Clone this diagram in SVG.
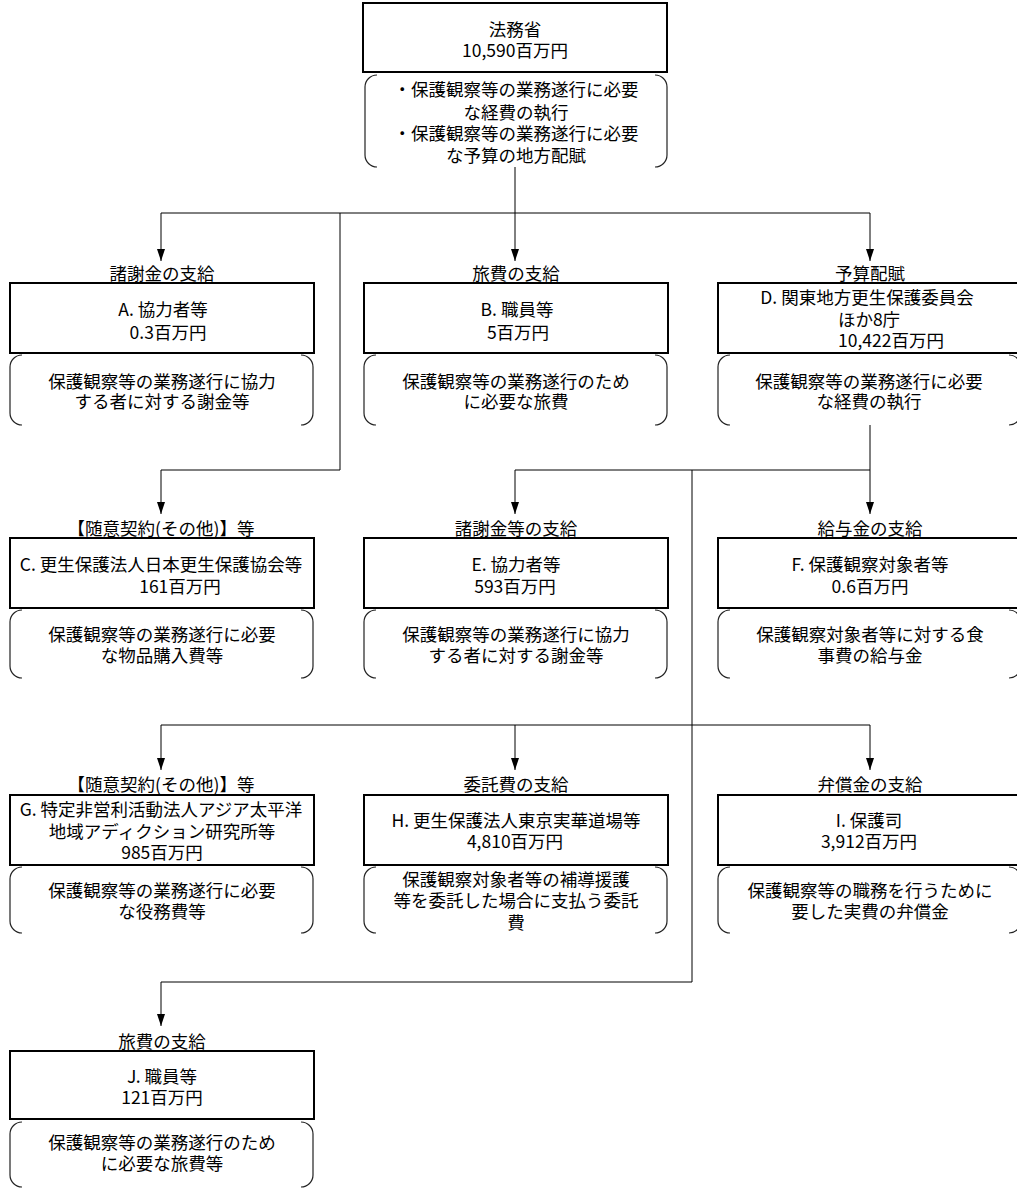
<svg xmlns="http://www.w3.org/2000/svg" width="1017" height="1189" viewBox="0 0 1017 1189">
<style>
text{font-family:"Noto Sans CJK JP","Noto Sans CJK SC",sans-serif;font-size:17.5px;fill:#000;text-anchor:middle}
.box{fill:#fff;stroke:#000;stroke-width:2}
.br{fill:none;stroke:#222;stroke-width:1.2}
.cn{fill:none;stroke:#000;stroke-width:1}
</style>
<defs>
<marker id="ah" viewBox="0 0 8 12" refX="4" refY="12" markerWidth="8" markerHeight="12" markerUnits="userSpaceOnUse" orient="auto-start-reverse">
<path d="M0,0 L8,0 L4,12 Z" fill="#000" transform="rotate(0)"/>
</marker>
<marker id="a2" viewBox="0 0 12 8" refX="12" refY="4" markerWidth="12" markerHeight="8" markerUnits="userSpaceOnUse" orient="auto">
<path d="M0,0 L12,4 L0,8 Z" fill="#000"/>
</marker>
</defs>

<g id="connectors">
<path class="cn" d="M515,167 V213"/>
<path class="cn" d="M161,213 H870"/>
<path class="cn" d="M161,213 V261" marker-end="url(#a2)"/>
<path class="cn" d="M515,213 V261" marker-end="url(#a2)"/>
<path class="cn" d="M870,213 V261" marker-end="url(#a2)"/>
<path class="cn" d="M340,213 V470 H161 V514" marker-end="url(#a2)"/>
<path class="cn" d="M870,425 V470"/>
<path class="cn" d="M515,470 H870"/>
<path class="cn" d="M515,470 V514" marker-end="url(#a2)"/>
<path class="cn" d="M870,470 V514" marker-end="url(#a2)"/>
<path class="cn" d="M692,470 V982"/>
<path class="cn" d="M161,725 H870"/>
<path class="cn" d="M161,725 V770" marker-end="url(#a2)"/>
<path class="cn" d="M515,725 V770" marker-end="url(#a2)"/>
<path class="cn" d="M870,725 V770" marker-end="url(#a2)"/>
<path class="cn" d="M692,982 H161 V1026" marker-end="url(#a2)"/>
</g>

<g id="n-moj">
<rect class="box" x="363" y="3" width="304" height="69"/>
<text x="515" y="36">法務省</text>
<text x="515" y="57">10,590百万円</text>
<path class="br" d="M377,75 A12,12 0 0 0 365,87 V155 A12,12 0 0 0 377,167 M655,75 A12,12 0 0 1 667,87 V155 A12,12 0 0 1 655,167"/>
<text x="516" y="96">・保護観察等の業務遂行に必要</text>
<text x="516" y="119">な経費の執行</text>
<text x="516" y="140">・保護観察等の業務遂行に必要</text>
<text x="516" y="162">な予算の地方配賦</text>
</g>

<g id="n-a">
<text x="162" y="280">諸謝金の支給</text>
<rect class="box" x="10" y="283" width="304" height="70"/>
<text x="163" y="316">A. 協力者等</text>
<text x="168" y="339">0.3百万円</text>
<path class="br" d="M22,355 A12,12 0 0 0 10,367 V413 A12,12 0 0 0 22,425 M301,355 A12,12 0 0 1 313,367 V413 A12,12 0 0 1 301,425"/>
<text x="162" y="388">保護観察等の業務遂行に協力</text>
<text x="162" y="408">する者に対する謝金等</text>
</g>

<g id="n-b">
<text x="516" y="280">旅費の支給</text>
<rect class="box" x="364" y="283" width="304" height="70"/>
<text x="517" y="316">B. 職員等</text>
<text x="518" y="339">5百万円</text>
<path class="br" d="M376,355 A12,12 0 0 0 364,367 V413 A12,12 0 0 0 376,425 M655,355 A12,12 0 0 1 667,367 V413 A12,12 0 0 1 655,425"/>
<text x="516" y="388">保護観察等の業務遂行のため</text>
<text x="516" y="408">に必要な旅費</text>
</g>

<g id="n-d">
<text x="870" y="280">予算配賦</text>
<rect class="box" x="718" y="283" width="304" height="70"/>
<text x="867" y="304">D. 関東地方更生保護委員会</text>
<text x="869" y="326">ほか8庁</text>
<text x="891" y="347">10,422百万円</text>
<path class="br" d="M730,355 A12,12 0 0 0 718,367 V413 A12,12 0 0 0 730,425 M1009,355 A12,12 0 0 1 1021,367 V413 A12,12 0 0 1 1009,425"/>
<text x="869" y="388">保護観察等の業務遂行に必要</text>
<text x="869" y="408">な経費の執行</text>
</g>

<g id="n-c">
<text x="161" y="535">【随意契約(その他)】等</text>
<rect class="box" x="10" y="538" width="304" height="70"/>
<text x="161" y="571">C. 更生保護法人日本更生保護協会等</text>
<text x="180" y="593">161百万円</text>
<path class="br" d="M22,610 A12,12 0 0 0 10,622 V666 A12,12 0 0 0 22,678 M301,610 A12,12 0 0 1 313,622 V666 A12,12 0 0 1 301,678"/>
<text x="162" y="641">保護観察等の業務遂行に必要</text>
<text x="162" y="662">な物品購入費等</text>
</g>

<g id="n-e">
<text x="516" y="535">諸謝金等の支給</text>
<rect class="box" x="364" y="538" width="304" height="70"/>
<text x="516" y="571">E. 協力者等</text>
<text x="515" y="593">593百万円</text>
<path class="br" d="M376,610 A12,12 0 0 0 364,622 V666 A12,12 0 0 0 376,678 M655,610 A12,12 0 0 1 667,622 V666 A12,12 0 0 1 655,678"/>
<text x="516" y="641">保護観察等の業務遂行に協力</text>
<text x="516" y="662">する者に対する謝金等</text>
</g>

<g id="n-f">
<text x="870" y="535">給与金の支給</text>
<rect class="box" x="718" y="538" width="304" height="70"/>
<text x="870" y="571">F. 保護観察対象者等</text>
<text x="870" y="593">0.6百万円</text>
<path class="br" d="M730,610 A12,12 0 0 0 718,622 V666 A12,12 0 0 0 730,678 M1009,610 A12,12 0 0 1 1021,622 V666 A12,12 0 0 1 1009,678"/>
<text x="870" y="641">保護観察対象者等に対する食</text>
<text x="870" y="662">事費の給与金</text>
</g>

<g id="n-g">
<text x="161" y="791">【随意契約(その他)】等</text>
<rect class="box" x="10" y="795" width="304" height="70"/>
<text x="161" y="816">G. 特定非営利活動法人アジア太平洋</text>
<text x="162" y="838">地域アディクション研究所等</text>
<text x="162" y="859">985百万円</text>
<path class="br" d="M22,867 A12,12 0 0 0 10,879 V921 A12,12 0 0 0 22,933 M301,867 A12,12 0 0 1 313,879 V921 A12,12 0 0 1 301,933"/>
<text x="162" y="897">保護観察等の業務遂行に必要</text>
<text x="162" y="918">な役務費等</text>
</g>

<g id="n-h">
<text x="516" y="791">委託費の支給</text>
<rect class="box" x="364" y="795" width="304" height="70"/>
<text x="516" y="827">H. 更生保護法人東京実華道場等</text>
<text x="515" y="848">4,810百万円</text>
<path class="br" d="M376,867 A12,12 0 0 0 364,879 V921 A12,12 0 0 0 376,933 M655,867 A12,12 0 0 1 667,879 V921 A12,12 0 0 1 655,933"/>
<text x="516" y="886">保護観察対象者等の補導援護</text>
<text x="516" y="907">等を委託した場合に支払う委託</text>
<text x="516" y="929">費</text>
</g>

<g id="n-i">
<text x="870" y="791">弁償金の支給</text>
<rect class="box" x="718" y="795" width="304" height="70"/>
<text x="869" y="827">I. 保護司</text>
<text x="869" y="848">3,912百万円</text>
<path class="br" d="M730,867 A12,12 0 0 0 718,879 V921 A12,12 0 0 0 730,933 M1009,867 A12,12 0 0 1 1021,879 V921 A12,12 0 0 1 1009,933"/>
<text x="870" y="897">保護観察等の職務を行うために</text>
<text x="870" y="918">要した実費の弁償金</text>
</g>

<g id="n-j">
<text x="162" y="1048">旅費の支給</text>
<rect class="box" x="10" y="1051" width="304" height="68"/>
<text x="162" y="1083">J. 職員等</text>
<text x="162" y="1104">121百万円</text>
<path class="br" d="M22,1122 A12,12 0 0 0 10,1134 V1175 A12,12 0 0 0 22,1187 M301,1122 A12,12 0 0 1 313,1134 V1175 A12,12 0 0 1 301,1187"/>
<text x="162" y="1149">保護観察等の業務遂行のため</text>
<text x="162" y="1170">に必要な旅費等</text>
</g>
</svg>
